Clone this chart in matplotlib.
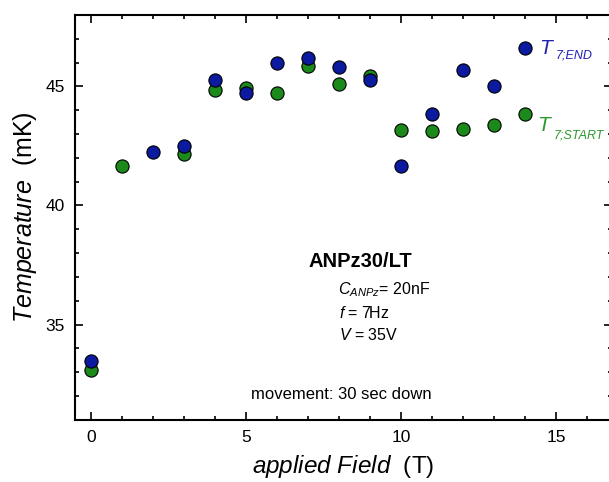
import matplotlib
matplotlib.use("Agg")
import matplotlib.pyplot as plt
from matplotlib.ticker import MultipleLocator

plt.rcParams["font.family"] = ["Liberation Sans", "DejaVu Sans"]
plt.rcParams["mathtext.fontset"] = "custom"
plt.rcParams["mathtext.rm"] = "Liberation Sans"
plt.rcParams["mathtext.it"] = "Liberation Sans:italic"
plt.rcParams["mathtext.bf"] = "Liberation Sans:bold"

# applied field (T) and temperatures (mK)
field_end = [0, 2, 3, 4, 5, 6, 7, 8, 9, 10, 11, 12, 13, 14]
temp_end = [33.46, 42.25, 42.5, 45.25, 44.72, 45.97, 46.2, 45.81, 45.25,
            41.67, 43.83, 45.67, 45.0, 46.62]
field_start = [0, 1, 3, 4, 5, 6, 7, 8, 9, 10, 11, 12, 13, 14]
temp_start = [33.08, 41.67, 42.15, 44.86, 44.94, 44.72, 45.84, 45.11, 45.42,
              43.16, 43.12, 43.23, 43.37, 43.86]

BLUE = "#0b1a9e"
GREEN = "#1b8a1b"
BLUE_TXT = "#2222b4"
GREEN_TXT = "#2a9a2a"

fig = plt.figure(figsize=(6.09, 4.82), dpi=100)
ax = fig.add_axes([0.123, 0.129, 0.882, 0.840])

ax.plot(field_start, temp_start, "o", ms=9.5, mfc=GREEN, mec="black", mew=0.8,
        zorder=3)
ax.plot(field_end, temp_end, "o", ms=9.5, mfc=BLUE, mec="black", mew=0.8,
        zorder=4)

ax.set_xlim(-0.52, 16.8)
ax.set_ylim(31, 48)
ax.xaxis.set_major_locator(MultipleLocator(5))
ax.xaxis.set_minor_locator(MultipleLocator(1))
ax.yaxis.set_major_locator(MultipleLocator(5))
ax.yaxis.set_minor_locator(MultipleLocator(1))
ax.tick_params(which="both", direction="in", top=True, right=True,
               width=1.2, labelsize=12.5, colors="black")
ax.tick_params(which="major", length=6, pad=7)
ax.tick_params(which="minor", length=3)
for sp in ax.spines.values():
    sp.set_linewidth(1.5)

ax.set_xlabel(r"$\mathit{applied\ Field}$  (T)", fontsize=17.5, labelpad=6)
ax.set_ylabel(r"$\mathit{Temperature}$  (mK)", fontsize=18, labelpad=5)

# series labels: big italic T with a small, low subscript
ax.text(14.45, 46.38, "T", color=BLUE_TXT, fontsize=15, style="italic",
        va="baseline")
ax.text(14.98, 46.17, "7;END", color=BLUE_TXT, fontsize=9, style="italic",
        va="baseline")
ax.text(14.4, 43.12, "T", color=GREEN_TXT, fontsize=15, style="italic",
        va="baseline")
ax.text(14.93, 42.82, "7;START", color=GREEN_TXT, fontsize=9, style="italic",
        va="baseline")

ax.text(8.67, 37.64, "ANPz30/LT", fontsize=14.5, fontweight="bold",
        ha="center", va="center")
ax.text(7.95, 36.46, r"$C_{ANPz}$= 20nF", fontsize=11.5, va="center")
ax.text(8.0, 35.5, r"$f$ = 7Hz", fontsize=11.5, va="center")
ax.text(8.0, 34.58, r"$V$ = 35V", fontsize=11.5, va="center")
ax.text(8.06, 32.07, "movement: 30 sec down", fontsize=12,
        ha="center", va="center")

fig.savefig("out.png", dpi=100)
